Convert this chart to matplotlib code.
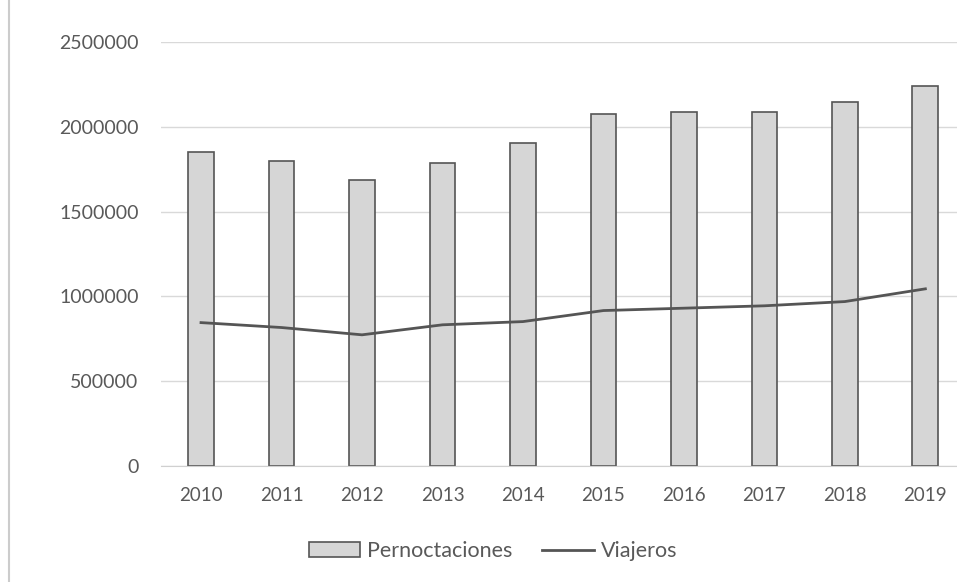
import numpy as np
import matplotlib
matplotlib.use("Agg")
import matplotlib.pyplot as plt

# datos
years = ['2010', '2011', '2012', '2013', '2014', '2015', '2016', '2017', '2018', '2019']
pernoctaciones = [1849000, 1800000, 1688000, 1784000, 1906000, 2078000, 2086000, 2088000, 2145000, 2239000]
viajeros = [846000, 817000, 774000, 833000, 852000, 917000, 931000, 945000, 970000, 1045000]

plt.rcParams['font.family'] = ['Lato', 'DejaVu Sans']
txt = '#595959'

fig = plt.figure(figsize=(9.57, 5.82), dpi=100)
ax = fig.add_axes([0.168, 0.199, 0.841, 0.729])

x = np.arange(len(years))
bars = ax.bar(x, pernoctaciones, width=0.32, color='#d6d6d6', edgecolor='#555555',
              linewidth=1.2, label='Pernoctaciones', zorder=2)
line, = ax.plot(x, viajeros, color='#555555', linewidth=2, label='Viajeros', zorder=3)

ax.set_xlim(-0.5, len(years) - 0.5)
ax.set_ylim(0, 2500000)
ax.set_yticks(np.arange(0, 2500001, 500000))
ax.set_yticklabels([str(v) for v in range(0, 2500001, 500000)], fontsize=14)
ax.set_xticks(x)
ax.set_xticklabels(years, fontsize=13.5)
ax.yaxis.grid(True, color='#d9d9d9', linewidth=1, zorder=0)
ax.set_axisbelow(True)
for s in ['top', 'right', 'left']:
    ax.spines[s].set_visible(False)
ax.spines['bottom'].set_color('#d0d0d0')
ax.tick_params(axis='both', length=0, colors=txt)
ax.tick_params(axis='x', pad=15)
ax.tick_params(axis='y', pad=16)

fig.legend([bars, line], ['Pernoctaciones', 'Viajeros'], loc='center',
           bbox_to_anchor=(0.515, 0.053), ncol=2, frameon=False,
           fontsize=15.5, labelcolor=txt, handlelength=2.4, handletextpad=0.3,
           columnspacing=1.4, handleheight=0.7)

# borde del gráfico a la izquierda
fig.add_artist(plt.Line2D([0.009, 0.009], [0.0, 1.0], color='#cccccc', linewidth=1.5))

fig.savefig('out.png', dpi=100)
